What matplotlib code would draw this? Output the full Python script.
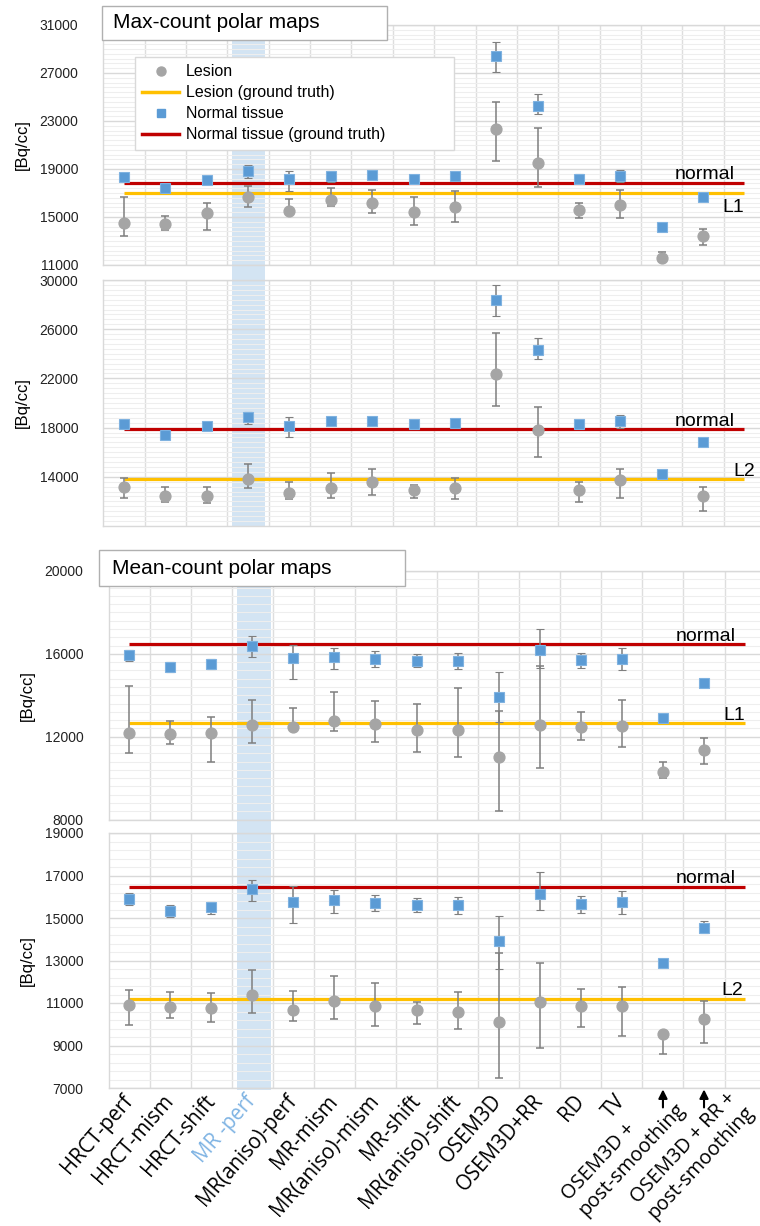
import numpy as np
import matplotlib.pyplot as plt
from matplotlib.patches import Rectangle
from matplotlib.lines import Line2D
from matplotlib.transforms import blended_transform_factory, ScaledTranslation

# ---- data ----
methods = ["HRCT-perf", "HRCT-mism", "HRCT-shift", "MR -perf", "MR(aniso)-perf",
           "MR-mism", "MR(aniso)-mism", "MR-shift", "MR(aniso)-shift", "OSEM3D",
           "OSEM3D+RR", "RD", "TV", "OSEM3D +\npost-smoothing",
           "OSEM3D + RR +\npost-smoothing"]
nan = np.nan

# Max-count, lesion L1
p1_normal = [18300, 17400, 18100, 18800, 18150, 18400, 18500, 18200, 18400, 28400, 24250, 18200, 18450, 14200, 16700]
p1_normal_lo = [18100, 17250, 17950, 18250, 17150, 17950, 18250, 18050, 18150, 27050, 23550, 17950, 17950, 14100, 16600]
p1_normal_hi = [18500, 17550, 18250, 19300, 18800, 18850, 18750, 18350, 18650, 29550, 25250, 18600, 18950, 14300, 16800]
p1_lesion = [14500, 14400, 15350, 16700, 15500, 16450, 16150, 15400, 15850, 22350, 19500, 15550, 16000, 11550, 13400]
p1_lesion_lo = [13400, 13950, 13900, 15850, 15500, 15900, 15300, 14350, 14550, 19700, 17500, 14900, 14950, 11300, 12700]
p1_lesion_hi = [16700, 15100, 16150, 17550, 16500, 17400, 17250, 16700, 17200, 24600, 22450, 16200, 17250, 12050, 14000]
p1_truth_normal, p1_truth_lesion = 17850, 17000

# Max-count, lesion L2
p2_normal = [18300, 17400, 18150, 18850, 18150, 18500, 18550, 18300, 18400, 28400, 24300, 18300, 18500, 14250, 16800]
p2_normal_lo = [18150, 17300, 18050, 18300, 17200, 18200, 18250, 18200, 18150, 27100, 23550, 18050, 18000, 14150, 16700]
p2_normal_hi = [18450, 17500, 18250, 19300, 18850, 18800, 18850, 18400, 18650, 29600, 25300, 18550, 19050, 14350, 16900]
p2_lesion = [13200, 12450, 12450, 13850, 12700, 13100, 13550, 12900, 13050, 22350, 17800, 12900, 13700, nan, 12400]
p2_lesion_lo = [12300, 11950, 11850, 13050, 12200, 12250, 12500, 12300, 12200, 19750, 15650, 11950, 12300, nan, 11250]
p2_lesion_hi = [13900, 13150, 13200, 15050, 13550, 14300, 14650, 13300, 13900, 25700, 19650, 13600, 14650, nan, 13200]
p2_truth_normal, p2_truth_lesion = 17850, 13800

# Mean-count, lesion L1
p3_normal = [15950, 15350, 15500, 16400, 15800, 15850, 15750, 15650, 15650, 13900, 16200, 15700, 15750, 12900, 14600]
p3_normal_lo = [15650, 15100, 15250, 15850, 14800, 15250, 15350, 15350, 15250, 12700, 15300, 15300, 15200, 12800, 14400]
p3_normal_hi = [16200, 15600, 15750, 16850, 16450, 16300, 16150, 16000, 16050, 15100, 17200, 16050, 16300, 13000, 14800]
p3_lesion = [12200, 12150, 12200, 12550, 12450, 12750, 12600, 12300, 12300, 11000, 12550, 12450, 12500, 10300, 11350]
p3_lesion_lo = [11200, 11650, 10800, 11700, 12450, 12250, 11750, 11250, 11000, 8400, 10500, 11850, 11500, 10000, 10700]
p3_lesion_hi = [14450, 12750, 12950, 13750, 13400, 14150, 13700, 13600, 14350, 13250, 15400, 13200, 13750, 10800, 11950]
p3_truth_normal, p3_truth_lesion = 16470, 12650

# Mean-count, lesion L2
p4_normal = [15900, 15350, 15500, 16350, 15750, 15850, 15700, 15600, 15600, 13900, 16150, 15650, 15750, 12900, 14550]
p4_normal_lo = [15600, 15050, 15200, 15800, 14750, 15250, 15350, 15300, 15200, 12600, 15400, 15250, 15200, 12800, 14300]
p4_normal_hi = [16200, 15600, 15750, 16800, 16500, 16300, 16100, 15950, 16000, 15100, 17150, 16050, 16250, 13000, 14850]
p4_lesion = [10900, 10800, 10750, 11400, 10650, 11100, 10850, 10650, 10600, 10100, 11050, 10850, 10850, 9550, 10250]
p4_lesion_lo = [9950, 10300, 10100, 10550, 10150, 10250, 9900, 10000, 9800, 7450, 8900, 9850, 9450, 8600, 9100]
p4_lesion_hi = [11600, 11500, 11450, 12550, 11550, 12250, 11950, 11050, 11500, 13350, 12900, 11650, 11750, 9600, 11100]
p4_truth_normal, p4_truth_lesion = 16470, 11200

# ---- style ----
GRAY = "#a5a5a5"
BLUE = "#5b9bd5"
RED = "#c00000"
YELLOW = "#ffc000"
ERRC = "#7f7f7f"
BAND = "#d3e4f3"
W, H = 760, 1226

plt.rcParams['font.family'] = ['Liberation Sans', 'DejaVu Sans']

fig = plt.figure(figsize=(W / 100, H / 100), dpi=100)

def fx(px):
    return px / W

def fy(py):
    return 1 - py / H

# panel geometry in pixels: left, top, bottom, step per category
panels = [
    dict(left=103.3, top=25, bottom=265, step=41.36, ylim=(11000, 31000), ticks=np.arange(11000, 31001, 4000),
         normal=p1_normal, nlo=p1_normal_lo, nhi=p1_normal_hi,
         lesion=p1_lesion, llo=p1_lesion_lo, lhi=p1_lesion_hi,
         tn=p1_truth_normal, tl=p1_truth_lesion, lname="L1", lx=15.0, lbelow=True, nx=14.77),
    dict(left=103.3, top=280, bottom=526, step=41.36, ylim=(10000, 30000), ticks=np.arange(14000, 30001, 4000),
         normal=p2_normal, nlo=p2_normal_lo, nhi=p2_normal_hi,
         lesion=p2_lesion, llo=p2_lesion_lo, lhi=p2_lesion_hi,
         tn=p2_truth_normal, tl=p2_truth_lesion, lname="L2", lx=15.26, lbelow=False, nx=14.77),
    dict(left=108.5, top=571, bottom=819.5, step=41.07, ylim=(8000, 20000), ticks=np.arange(8000, 20001, 4000),
         normal=p3_normal, nlo=p3_normal_lo, nhi=p3_normal_hi,
         lesion=p3_lesion, llo=p3_lesion_lo, lhi=p3_lesion_hi,
         tn=p3_truth_normal, tl=p3_truth_lesion, lname="L1", lx=15.0, lbelow=False, nx=14.76),
    dict(left=108.5, top=833, bottom=1088, step=41.07, ylim=(7000, 19000), ticks=np.arange(7000, 19001, 2000),
         normal=p4_normal, nlo=p4_normal_lo, nhi=p4_normal_hi,
         lesion=p4_lesion, llo=p4_lesion_lo, lhi=p4_lesion_hi,
         tn=p4_truth_normal, tl=p4_truth_lesion, lname="L2", lx=14.95, lbelow=False, nx=14.76),
]

x = np.arange(len(methods))
axes = []
for p in panels:
    width = 16 * p["step"]
    ax = fig.add_axes([fx(p["left"]), fy(p["bottom"]), fx(width), (p["bottom"] - p["top"]) / H])
    ax.set_facecolor("none")
    ax.set_xlim(-0.5, 15.5)
    ax.set_ylim(*p["ylim"])
    ax.set_yticks(p["ticks"])
    ax.set_yticklabels([str(t) for t in p["ticks"]], fontsize=10, color="#222222")
    ax.set_yticks(np.arange(p["ylim"][0], p["ylim"][1] + 1, 400), minor=True)
    ax.set_xticks(x)
    ax.set_xticks(np.arange(0.5, 15.6, 1), minor=True)
    ax.tick_params(axis="both", which="both", length=0)
    ax.tick_params(axis="y", pad=18)
    ax.grid(True, which="major", axis="y", color="#d9d9d9", lw=1.0)
    ax.grid(True, which="minor", axis="y", color="#eeeeee", lw=0.8)
    ax.grid(True, which="minor", axis="x", color="#dedede", lw=1.0)
    ax.set_axisbelow(True)
    for s in ax.spines.values():
        s.set_color("#d9d9d9")
        s.set_linewidth(1.0)
    ax.set_ylabel("[Bq/cc]", fontsize=12, labelpad=7)

    # ground truth lines
    ax.hlines(p["tn"], 0, len(methods), color=RED, lw=2.3, zorder=2)
    ax.hlines(p["tl"], 0, len(methods), color=YELLOW, lw=2.3, zorder=2)

    les = np.array(p["lesion"], dtype=float)
    lerr = [les - np.array(p["llo"], dtype=float), np.array(p["lhi"], dtype=float) - les]
    ax.errorbar(x, les, yerr=lerr, fmt="o", color=GRAY, ms=7.8, mec=GRAY,
                ecolor=ERRC, elinewidth=1.1, capsize=2.8, capthick=1.1, zorder=3)
    nor = np.array(p["normal"], dtype=float)
    nerr = [nor - np.array(p["nlo"], dtype=float), np.array(p["nhi"], dtype=float) - nor]
    ax.errorbar(x, nor, yerr=nerr, fmt="s", color=BLUE, ms=7.0, mec="#7fb2e0", mew=0.8,
                ecolor=ERRC, elinewidth=1.1, capsize=2.8, capthick=1.1, zorder=4)

    ax.annotate("normal", (p["nx"], p["tn"]), xytext=(0, 2.5), textcoords="offset points",
                ha="right", va="baseline", fontsize=14)
    if p["lbelow"]:
        ax.annotate(p["lname"], (p["lx"], p["tl"]), xytext=(0, -4), textcoords="offset points",
                    ha="right", va="top", fontsize=14)
    else:
        ax.annotate(p["lname"], (p["lx"], p["tl"]), xytext=(0, 2.5), textcoords="offset points",
                    ha="right", va="baseline", fontsize=14)
    ax.set_xticklabels([])
    axes.append(ax)

ax1, ax2, ax3, ax4 = axes

# x labels on the bottom panel (two-line labels placed by hand below the arrows)
XFONT = ["Open Sans", "DejaVu Sans"]
single = [m if "\n" not in m else "" for m in methods]
ax4.set_xticklabels(single, rotation=49, ha="right", va="center", rotation_mode="anchor",
                    fontsize=14.8, family=XFONT)
ax4.tick_params(axis="x", pad=7)
ax4.get_xticklabels()[3].set_color("#7eb3e3")

base = blended_transform_factory(ax4.transData, ax4.transAxes)
for i, (dx, dy) in [(13, (-74, 132)), (14, (-46, 135))]:
    off = ScaledTranslation(dx / 100, -dy / 100, fig.dpi_scale_trans)
    ax4.text(i, 0, methods[i], transform=base + off, rotation=47, rotation_mode="anchor",
             ha="left", va="bottom", multialignment="left", fontsize=14.3, family=XFONT,
             linespacing=1.15, clip_on=False)

# arrows under the post-smoothing columns
for i in (13, 14):
    ax4.annotate("", xy=(i, 0), xycoords=("data", "axes fraction"),
                 xytext=(0, -14), textcoords="offset points",
                 arrowprops=dict(arrowstyle="-|>", color="black", lw=1.5,
                                 mutation_scale=13, shrinkA=0, shrinkB=1.0),
                 annotation_clip=False)

# highlight band for MR-perf spanning both panels of each group
for top_ax, ytop, ybot, x0, x1 in [(ax1, 25, 526, 2.6, 3.4), (ax3, 571, 1090, 2.62, 3.45)]:
    tr = blended_transform_factory(top_ax.transData, fig.transFigure)
    band = Rectangle((x0, fy(ybot)), x1 - x0, (ybot - ytop) / H, transform=tr,
                     facecolor=BAND, edgecolor="none", zorder=-1)
    fig.add_artist(band)

# title boxes
for (x0, y0, x1, y1, tx, txt) in [(102, 6, 387, 40, 113, "Max-count polar maps"),
                                  (99, 550, 405, 586, 112, "Mean-count polar maps")]:
    fig.add_artist(Rectangle((fx(x0), fy(y1)), fx(x1 - x0), (y1 - y0) / H, transform=fig.transFigure,
                             facecolor="white", edgecolor="#b0b0b0", lw=1.0, zorder=5))
    fig.text(fx(tx), fy((y0 + y1) / 2), txt, fontsize=15, ha="left", va="center", zorder=6)

# legend
handles = [
    Line2D([], [], marker="o", ls="none", color=GRAY, ms=6.5),
    Line2D([], [], color=YELLOW, lw=2.5),
    Line2D([], [], marker="s", ls="none", color=BLUE, ms=6),
    Line2D([], [], color=RED, lw=2.5),
]
labels = ["Lesion", "Lesion (ground truth)", "Normal tissue", "Normal tissue (ground truth)"]
leg = ax1.legend(handles, labels, loc="upper left",
                 bbox_to_anchor=(fx(135), fy(146), fx(319), 89 / H), bbox_transform=fig.transFigure,
                 mode="expand", borderaxespad=0, fontsize=11.5, handlelength=2.3, handletextpad=0.45,
                 labelspacing=0.38, borderpad=0.45, fancybox=False, framealpha=1, edgecolor="#d9d9d9")
leg.get_frame().set_linewidth(1.0)
leg.set_zorder(7)

fig.savefig("out.png", dpi=100)
